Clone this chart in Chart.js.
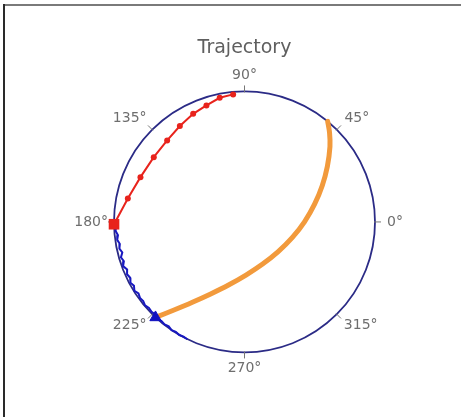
<!DOCTYPE html>
<html>
<head>
<meta charset="utf-8">
<script src="https://cdn.jsdelivr.net/npm/chart.js@4/dist/chart.umd.min.js"></script>
<style>
html,body{margin:0;padding:0;background:#fff;}
#c{display:block;}
</style>
</head>
<body>
<canvas id="c" width="461" height="417"></canvas>
<script>
// ---- data (angles in degrees, radius normalised to the outer circle) ----
const chartTitle = 'Trajectory';
const angleTickLabels = ['0°','45°','90°','135°','180°','225°','270°','315°'];
const angleTickValues = [0,45,90,135,180,225,270,315];

const redAngles = [181, 168.6, 156.7, 144.5, 133.5, 124.0, 115.4, 108.1, 101.3, 95.1];
const redRadii  = [1.0, 0.912, 0.868, 0.854, 0.861, 0.886, 0.917, 0.939, 0.970, 0.981];

const orangeAngles = [227.0, 231.3, 237.0, 244.8, 255.8, 271.6, 293.3, 318.7, 342.1, 0.4, 14.2, 25.0, 33.8, 41.4, 46.4, 50.4];
const orangeRadii  = [1.000, 0.864, 0.733, 0.609, 0.498, 0.407, 0.351, 0.344, 0.386, 0.461, 0.554, 0.657, 0.764, 0.873, 0.945, 1.000];

const blueAngles = [180,182,184,186,188,190,192,194,196,198,200,202,204,206,208,210,212,214,216,218,220,222,224,226,228,230,232,234,236,238,240,242,244];
const blueRadii  = [0.995,0.985,0.99,0.975,0.985,0.97,0.98,0.965,0.985,0.972,0.99,0.97,0.985,0.975,0.99,0.978,0.995,0.98,0.99,0.985,0.995,0.985,0.99,0.985,0.995,0.99,0.995,0.988,1.0,0.993,1.0,0.995,1.0];

const blueMarkerAngle = [227];
const blueMarkerRadius = [1.0];

function toXY(angles, radii){
  return angles.map((a,i)=>({x: radii[i]*Math.cos(a*Math.PI/180), y: radii[i]*Math.sin(a*Math.PI/180)}));
}

// label gaps (layout only)
const labelGapX = [12, 16, 0, 15, 6, 15, 0, 17];
const labelGapY = 10;

const polarFrame = {
  id:'polarFrame',
  beforeDraw(chart){
    const ctx = chart.ctx;
    ctx.save();
    ctx.fillStyle = '#7a7a7a';
    ctx.fillRect(4,4,457,2);
    ctx.fillStyle = '#2a2a2a';
    ctx.fillRect(3,4,2,413);
    ctx.restore();
  },
  beforeDatasetsDraw(chart){
    const ctx = chart.ctx;
    const xs = chart.scales.x, ys = chart.scales.y;
    const cx = xs.getPixelForValue(0), cy = ys.getPixelForValue(0);
    const R = xs.getPixelForValue(1) - cx;
    ctx.save();
    ctx.beginPath();
    ctx.arc(cx, cy, R, 0, Math.PI*2);
    ctx.strokeStyle = '#2b2b86';
    ctx.lineWidth = 1.8;
    ctx.stroke();
    ctx.font = '14px "DejaVu Sans", Verdana, sans-serif';
    ctx.fillStyle = '#6e6e6e';
    ctx.strokeStyle = '#777';
    ctx.lineWidth = 1;
    ctx.textAlign = 'center';
    ctx.textBaseline = 'middle';
    angleTickValues.forEach((a,i)=>{
      const t = a*Math.PI/180;
      const c = Math.cos(t), s = -Math.sin(t);
      const px = cx + c*R, py = cy + s*R;
      ctx.beginPath();
      ctx.moveTo(cx + c*(R-1), cy + s*(R-1));
      ctx.lineTo(cx + c*(R+6), cy + s*(R+6));
      ctx.stroke();
      const txt = angleTickLabels[i];
      const w = ctx.measureText(txt).width;
      ctx.fillText(txt, px + c*(labelGapX[i] + w/2), py + s*(labelGapY + 6));
    });
    ctx.restore();
  }
};

new Chart(document.getElementById('c'), {
  type: 'scatter',
  data: {
    datasets: [
      {
        label: 'start',
        data: toXY(blueMarkerAngle, blueMarkerRadius),
        pointStyle: 'triangle', pointRadius: 6.5,
        backgroundColor: '#1010c0', borderColor: '#1010c0',
        showLine: false, order: 0, clip: false
      },
      {
        label: 'red',
        data: toXY(redAngles, redRadii),
        showLine: true, borderColor: '#e8231c', backgroundColor: '#e8231c', borderWidth: 2,
        pointRadius: redAngles.map((a,i)=> i===0 ? 7.5 : 3),
        pointStyle: redAngles.map((a,i)=> i===0 ? 'rect' : 'circle'),
        pointBorderWidth: 0, tension: 0, order: 1, clip: false
      },
      {
        label: 'orange',
        data: toXY(orangeAngles, orangeRadii),
        showLine: true, borderColor: '#f29a3c', borderWidth: 5, pointRadius: 0,
        tension: 0.3, order: 2, clip: false, borderCapStyle: 'round'
      },
      {
        label: 'blue',
        data: toXY(blueAngles, blueRadii),
        showLine: true, borderColor: '#1818c0', borderWidth: 2, pointRadius: 0,
        tension: 0, order: 3, clip: false
      }
    ]
  },
  options: {
    responsive: false,
    animation: false,
    devicePixelRatio: 1,
    layout: { padding: { left: 114, right: 86, top: 0, bottom: 64.5 } },
    scales: {
      x: { type: 'linear', min: -1, max: 1, display: false },
      y: { type: 'linear', min: -1, max: 1, display: false }
    },
    plugins: {
      legend: { display: false },
      tooltip: { enabled: false },
      title: {
        display: true, text: chartTitle, color: '#5f5f5f',
        font: { family: '"DejaVu Sans", Verdana, sans-serif', size: 19, weight: 'normal' },
        padding: { top: 37, bottom: 31.6 }
      }
    }
  },
  plugins: [polarFrame]
});
</script>
</body>
</html>
